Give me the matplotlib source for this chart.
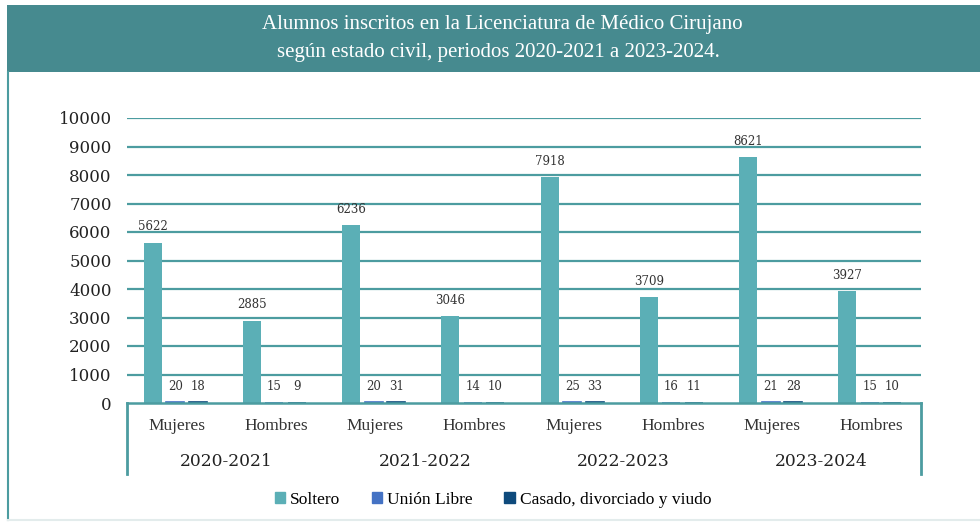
import matplotlib
matplotlib.use("Agg")
import matplotlib.pyplot as plt
import numpy as np
from matplotlib.patches import Rectangle
from matplotlib.lines import Line2D

periods = ["2020-2021", "2021-2022", "2022-2023", "2023-2024"]
sexes = ["Mujeres", "Hombres"]
series_names = ["Soltero", "Unión Libre", "Casado, divorciado y viudo"]
soltero = [5622, 2885, 6236, 3046, 7918, 3709, 8621, 3927]
union_libre = [20, 15, 20, 14, 25, 16, 21, 15]
casado = [18, 9, 31, 10, 33, 11, 28, 10]
yticks = list(range(0, 10001, 1000))

colors = ["#5BAFB6", "#4472C4", "#0E4A7C"]
grid_color = "#4C9CA0"
header_color = "#468A8F"

fig = plt.figure(figsize=(9.8, 5.23), dpi=100)
W, H = 980, 523

def fx(x): return x / W
def fy(y): return 1 - y / H

# header band
fig.patches.append(Rectangle((fx(7), fy(72)), fx(973), 67 / H, transform=fig.transFigure,
                             facecolor=header_color, edgecolor="none", zorder=0))
# left border of box
fig.add_artist(Line2D([fx(8), fx(8)], [fy(72), fy(520)], transform=fig.transFigure,
                      color=grid_color, lw=1.5))
fig.add_artist(Line2D([fx(8), fx(980)], [fy(520), fy(520)], transform=fig.transFigure,
                      color="#E3ECEC", lw=1.5))

fig.text(fx(502), fy(25), "Alumnos inscritos en la Licenciatura de Médico Cirujano",
         ha="center", va="center", color="white", fontsize=15, family="Liberation Serif")
fig.text(fx(498), fy(53), "según estado civil, periodos 2020-2021 a 2023-2024.",
         ha="center", va="center", color="white", fontsize=15, family="Liberation Serif")

ax = fig.add_axes([fx(127), fy(403), fx(921 - 127), (403 - 118) / H])
n = len(soltero)
x = np.arange(n)
w = 0.18
off = 0.227
data = [soltero, union_libre, casado]
for i, (vals, c) in enumerate(zip(data, colors)):
    pos = x + (i - 1) * off - 0.015
    if i == 0:
        ax.bar(pos, vals, width=w, color=c, zorder=3, label=series_names[i])
    else:
        ax.bar(pos, vals, width=w, color=c, edgecolor=c, linewidth=1.2, zorder=3,
               label=series_names[i])
    for p, v in zip(pos, vals):
        ax.text(p, v + 330, str(v), ha="center", va="bottom", fontsize=8.5,
                family="DejaVu Serif", color="#333333", zorder=4)

ax.set_xlim(-0.5, n - 0.5)
ax.set_ylim(0, 10000)
ax.set_yticks(yticks)
ax.set_yticklabels([str(t) for t in yticks], family="DejaVu Serif", fontsize=12, color="#222222")
ax.tick_params(axis="y", length=0, pad=11)
ax.set_xticks([])
for t in yticks[1:]:
    ax.axhline(t, color=grid_color, lw=1.6, zorder=1)
for s in ["top", "right", "left"]:
    ax.spines[s].set_visible(False)
ax.spines["bottom"].set_color(grid_color)
ax.spines["bottom"].set_linewidth(1.8)
ax.spines["bottom"].set_zorder(5)

# category axis box
for xv in [-0.5, n - 0.5]:
    ax.plot([xv, xv], [0, -0.25], transform=ax.get_xaxis_transform(), color=grid_color,
            lw=2, clip_on=False)
for i in range(n):
    ax.text(i, -0.08, sexes[i % 2], transform=ax.get_xaxis_transform(), ha="center",
            va="center", fontsize=12.5, family="Liberation Serif", color="#333333")
for j, p in enumerate(periods):
    ax.text(2 * j + 0.5, -0.207, p, transform=ax.get_xaxis_transform(), ha="center",
            va="center", fontsize=12.3, family="DejaVu Serif", color="#222222")

handles = [Rectangle((0, 0), 1, 1, color=c) for c in colors]
fig.legend(handles, series_names, loc="center", bbox_to_anchor=(fx(493), fy(500)), ncol=3,
           frameon=False, handlelength=0.6, handleheight=0.6, handletextpad=0.3,
           columnspacing=1.8, prop={"family": "Liberation Serif", "size": 12.5})

fig.savefig("out.png", dpi=100, facecolor="white")
